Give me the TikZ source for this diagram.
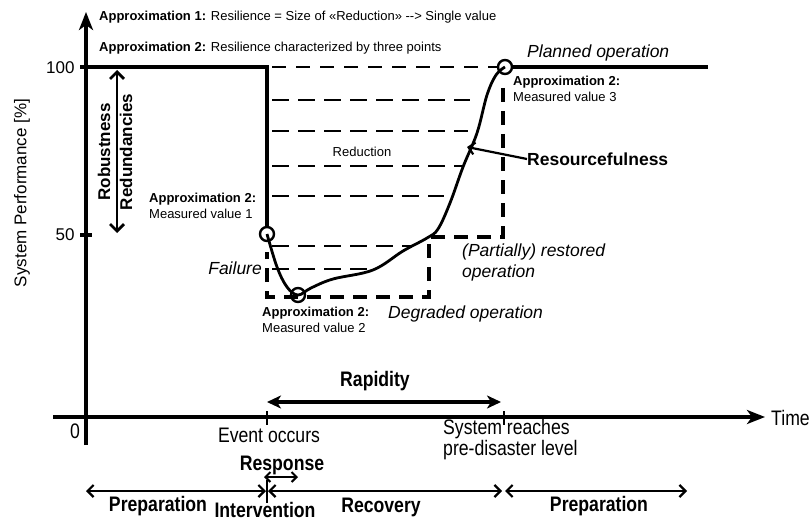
\documentclass[tikz,border=0pt]{standalone}
\usepackage{fontspec}
\setmainfont{Liberation Sans}
\newfontfamily\narrowsf[FakeStretch=0.84]{Liberation Sans}
\usetikzlibrary{arrows.meta}

\newcommand\notefont{\fontsize{13}{16}\selectfont}
\newcommand\tagfont{\fontsize{17.5}{21}\selectfont\itshape}
\newcommand\labelfont{\fontsize{17}{20}\selectfont}
\newcommand\timefont{\narrowsf\fontsize{21}{21}\selectfont}

\tikzset{
  axisline/.style={line width=3.6pt},
  axistip/.style={-{Stealth[length=18pt,width=14pt,inset=5pt]}},
  perfline/.style={line width=2.8pt, line join=round},
  boxdash/.style={line width=4.2pt, dash pattern=on 14pt off 9pt},
  griddash/.style={line width=1.2pt, dash pattern=on 17pt off 9pt},
  marker/.style={circle, draw, line width=2.4pt, minimum size=14pt, inner sep=0pt},
  note/.style={font=\notefont, inner sep=0pt, align=left, anchor=west},
  tag/.style={font=\tagfont, inner sep=0pt, align=left, anchor=west},
  phase/.style={font=\timefont\bfseries, inner sep=0pt},
  span/.style={line width=2.2pt, {Straight Barb[length=6pt,width=12pt]}-{Straight Barb[length=6pt,width=12pt]}},
}

\begin{document}
\begin{tikzpicture}[x=1pt,y=-1pt]
\useasboundingbox (0,0) rectangle (811,524);

% axes
\draw[axisline,axistip] (86,445) -- (86,12);
\draw[axisline,axistip] (53,417) -- (765,417);
\draw[axisline] (80,67) -- (92,67) (80,235) -- (92,235);
\draw[line width=2.4pt] (267,411) -- (267,425) (504,411) -- (504,425);

\node[anchor=east, font=\labelfont] (hundred) at (78,68) {100};
\node[anchor=east, font=\labelfont] (fifty) at (78,235) {50};
\node[rotate=90, font=\labelfont] (ylabel) at (22,193) {System Performance [\%]};
\node[font=\timefont] (zero) at (75,431) {0};
\node[anchor=west, font=\timefont, inner sep=0pt] (time) at (771,418) {Time};

\node[note] (approxone) at (99,17) {\textbf{Approximation 1:} Resilience = Size of «Reduction» -\kern0pt-\kern0pt> Single value};
\node[note] (approxtwo) at (99,48) {\textbf{Approximation 2:} Resilience characterized by three points};

% planned level and the drop at the event
\draw[axisline] (86,67) -- (267,67) -- (267,228);
\draw[line width=2.8pt, dash pattern=on 14pt off 10pt] (272,67) -- (497,67);
\draw[axisline] (512,67) -- (708,67);

% reduction area
\foreach \yy/\xend in {100/470, 131/468, 166/462, 196/444, 246/412, 269/372}
  \draw[griddash] (272,\yy) -- (\xend,\yy);
\node[font=\notefont] (reduction) at (362,152) {Reduction};

% degraded and restored levels
\draw[boxdash] (503,88) -- (503,237) -- (429,237) -- (429,297) -- (267,297) -- (267,252);

% measured points and performance curve
\node[marker] (mone) at (267,234) {};
\node[marker] (mtwo) at (298,295) {};
\node[marker] (mthree) at (505,67) {};
\draw[perfline] plot[smooth, tension=0.6] coordinates {(mone.center) (277,267) (287,287) (mtwo.center) (311,288) (333,279) (373,270) (403,251) (427,238) (438,229) (450,203) (463,167) (477,133) (487,95) (496,75) (mthree.center)};

\node[note] (valueone) at (149,206) {\textbf{Approximation 2:}\\Measured value 1};
\node[note] (valuetwo) at (262,320) {\textbf{Approximation 2:}\\Measured value 2};
\node[note] (valuethree) at (513,89) {\textbf{Approximation 2:}\\Measured value 3};

\node[tag, anchor=east] (failure) at (262,268) {Failure};
\node[tag] (degraded) at (388,314) {Degraded operation};
\node[tag] (restored) at (462,262) {(Partially) restored\\operation};
\node[tag] (planned) at (527,53) {Planned operation};

\node[anchor=west, font=\fontsize{17.5}{20}\selectfont\bfseries, inner sep=0pt] (resource) at (527,159) {Resourcefulness};
\coordinate (slope) at (467,147);
\draw[line width=2.2pt, -{Straight Barb[length=6pt,width=12pt]}] (resource.west) -- (slope);

% robustness
\draw[line width=2.8pt, {Straight Barb[length=7pt,width=14pt]}-{Straight Barb[length=7pt,width=14pt]}] (117,70) -- (117,233);
\node[rotate=90, font=\fontsize{17}{20}\selectfont\bfseries] (robust) at (104,152) {Robustness};
\node[rotate=90, font=\fontsize{17}{20}\selectfont\bfseries] (redund) at (126,152) {Redundancies};

% time line
\draw[line width=3.6pt, {Stealth[length=14pt,width=13pt,inset=4pt]}-{Stealth[length=14pt,width=13pt,inset=4pt]}] (267,402) -- (501,402);
\node[phase] (rapidity) at (375,381) {Rapidity};
\node[font=\timefont, inner sep=0pt] (event) at (269,435) {Event occurs};
\node[font=\timefont, inner sep=0pt, align=left, anchor=west] (reached) at (443,440) {System reaches\\pre-disaster level};

% phases
\draw[line width=2.8pt] (267,480) -- (267,503);
\draw[span] (86,491) -- (266,491);
\draw[span] (268,491) -- (502,491);
\draw[span] (505,491) -- (687,491);
\draw[line width=2pt, {Straight Barb[length=5pt,width=10pt]}-{Straight Barb[length=5pt,width=10pt]}] (264,477) -- (298,477);
\node[phase] (response) at (282,465) {Response};
\node[phase] (prepone) at (158,506) {Preparation};
\node[phase] (intervention) at (265,510) {Intervention};
\node[phase] (recovery) at (381,507) {Recovery};
\node[phase] (preptwo) at (599,506) {Preparation};
\end{tikzpicture}
\end{document}
